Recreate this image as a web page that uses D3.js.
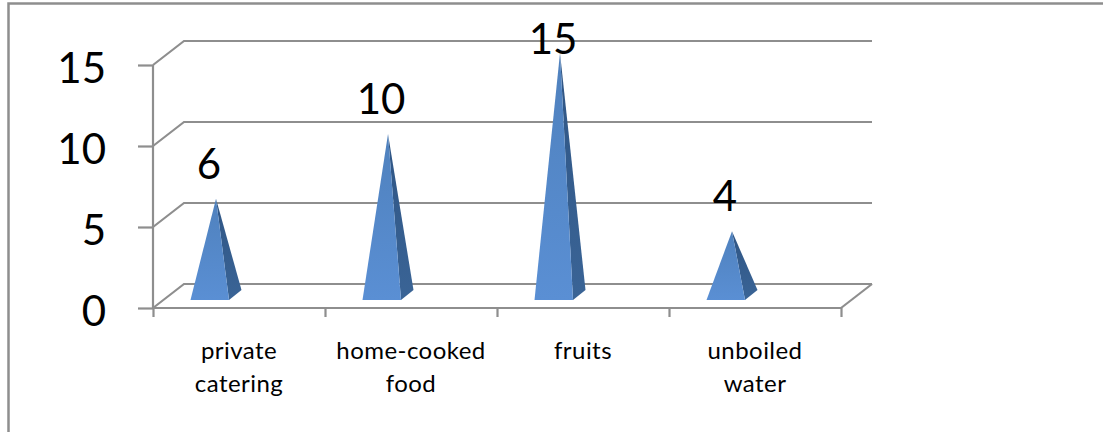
<!DOCTYPE html>
<html>
<head>
<meta charset="utf-8">
<script src="https://cdn.jsdelivr.net/npm/d3@7"></script>
<style>
html,body{margin:0;padding:0;background:#fff;overflow:hidden}
svg{display:block}
text{font-family:Lato,"Open Sans",sans-serif;fill:#000}
</style>
</head>
<body>
<svg id="chart" width="1103" height="432"></svg>
<script>
// Cases by presumed source of infection
const categories = [["private","catering"],["home-cooked","food"],["fruits"],["unboiled","water"]];
const values = [6,10,15,4];
const valueTicks = [0,5,10,15];

const svg = d3.select("#chart");
const grey = "#8e8e8e";

// Oblique projection of the 3D walls: the back wall sits up and to the right
const depth = {x:31,y:-24};
const y = d3.scaleLinear().domain([0,15]).range([308,65]);
const x = d3.scaleBand().domain(d3.range(categories.length)).range([153,841]);

// Outer frame
svg.append("path").attr("d","M8.5,432V3.5H1103").attr("fill","none").attr("stroke",grey).attr("stroke-width",2.5);

const defs = svg.append("defs");
const front = defs.append("linearGradient").attr("id","front").attr("x1",0).attr("y1",0).attr("x2",0).attr("y2",1);
front.append("stop").attr("offset",0).attr("stop-color","#4f81bd");
front.append("stop").attr("offset",1).attr("stop-color","#5a8fd4");
const side = defs.append("linearGradient").attr("id","side").attr("x1",0).attr("y1",0).attr("x2",0).attr("y2",1);
side.append("stop").attr("offset",0).attr("stop-color","#2f5584");
side.append("stop").attr("offset",1).attr("stop-color","#3a6496");

// Gridlines on the back wall with their slanted returns to the value axis
const walls = svg.append("g").attr("fill","none").attr("stroke",grey).attr("stroke-width",2.2);
valueTicks.forEach(t=>{
  walls.append("path").attr("d",d3.line()([
    [x.range()[0],y(t)],
    [x.range()[0]+depth.x,y(t)+depth.y],
    [x.range()[1]+depth.x,y(t)+depth.y]
  ]));
});
// Right edge of the floor
walls.append("path").attr("d",d3.line()([[x.range()[1],y(0)],[x.range()[1]+depth.x,y(0)+depth.y]]));

// Axes, drawn with d3.axis and restyled
const yAxis = svg.append("g").attr("transform",`translate(${x.range()[0]},0)`)
  .call(d3.axisLeft(y).tickValues(valueTicks).tickSize(15).tickFormat(d3.format("d")));
const xEdges = d3.range(categories.length+1).map(i=>x.range()[0]+i*x.step());
const xAxis = svg.append("g").attr("transform",`translate(0,${y(0)})`)
  .call(d3.axisBottom(d3.scaleLinear().domain(x.range()).range(x.range())).tickValues(xEdges).tickSize(9).tickFormat(""));
[yAxis,xAxis].forEach(a=>{
  a.selectAll("path,line").attr("stroke",grey).attr("stroke-width",2.2);
  a.select(".domain").attr("d", a===yAxis ? `M0,${y(15)}V${y(0)}` : `M${x.range()[0]},0H${x.range()[1]}`);
});
yAxis.selectAll("text").attr("font-size",42).attr("x",-47).attr("dy",null)
  .attr("y",17).attr("text-anchor","end").attr("fill","#000");

// Pyramids: a lit front face and a shaded side face meeting at the apex
const baseY = y(0)-8;
const apexBase = y(0)-12;
const bw = 38.5, dx = 12.5, dy = -10;
const marks = svg.append("g").selectAll("g").data(values).join("g");
marks.each(function(v,i){
  const g = d3.select(this);
  const l = x(i)+37.5, r = l+bw;
  const ax = (l+r)/2+dx/2, ay = apexBase-(y(0)-y(v));
  g.append("path").attr("d",d3.line()([[r,baseY],[r+dx,baseY+dy],[ax,ay]])+"Z").attr("fill","url(#side)");
  g.append("path").attr("d",d3.line()([[l,baseY],[r,baseY],[ax,ay]])+"Z").attr("fill","url(#front)");
  // The label of the tallest pyramid is held inside the plot area
  g.append("text").attr("x",ax-7).attr("y",Math.max(ay-20,54)).attr("text-anchor","middle").attr("font-size",42).text(v);
});

// Category labels, wrapped on two lines
const labels = svg.append("g").selectAll("text").data(categories).join("text")
  .attr("text-anchor","middle").attr("font-size",24).attr("letter-spacing",0.45);
labels.selectAll("tspan").data((d,i)=>d.map(s=>({s,i}))).join("tspan")
  .attr("x",d=>x(d.i)+x.step()/2)
  .attr("y",(d,j)=>358.5+j*33).text(d=>d.s);
</script>
</body>
</html>
